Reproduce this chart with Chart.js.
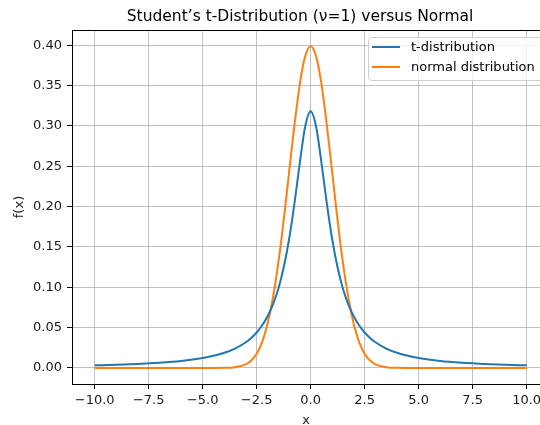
<!DOCTYPE html>
<html><head><meta charset="utf-8">
<script src="https://cdn.jsdelivr.net/npm/chart.js@4/dist/chart.umd.min.js"></script>
<style>html,body{margin:0;padding:0;background:#fff;overflow:hidden}#wrap{width:540px;height:425px;position:relative}</style>
</head><body><div id="wrap"><canvas id="c" width="540" height="425"></canvas></div>
<script>
const titleText = "Student\u2019s t-Distribution (\u03bd=1) versus Normal";
const seriesLabels = ["t-distribution", "normal distribution"];
const xValues = [-10,-9,-8,-7,-6,-5,-4.5,-4,-3.5,-3,-2.75,-2.5,-2.25,-2,-1.75,-1.5,-1.25,-1,-0.75,-0.5,-0.25,0,
  0.25,0.5,0.75,1,1.25,1.5,1.75,2,2.25,2.5,2.75,3,3.5,4,4.5,5,6,7,8,9,10];
const tValues = [0.0032,0.0039,0.0049,0.0064,0.0086,0.0122,0.0150,0.0187,0.0240,0.0318,0.0372,0.0439,0.0525,0.0637,0.0784,0.0979,0.1242,0.1592,0.2037,0.2546,0.2996,0.3183,
  0.2996,0.2546,0.2037,0.1592,0.1242,0.0979,0.0784,0.0637,0.0525,0.0439,0.0372,0.0318,0.0240,0.0187,0.0150,0.0122,0.0086,0.0064,0.0049,0.0039,0.0032];
const normalValues = [0,0,0,0,0,0,0,0.0001,0.0009,0.0044,0.0091,0.0175,0.0317,0.0540,0.0863,0.1295,0.1826,0.2420,0.3011,0.3521,0.3867,0.3989,
  0.3867,0.3521,0.3011,0.2420,0.1826,0.1295,0.0863,0.0540,0.0317,0.0175,0.0091,0.0044,0.0009,0.0001,0,0,0,0,0,0,0];
const xTicks = [-10,-7.5,-5,-2.5,0,2.5,5,7.5,10];
const yTicks = [0,0.05,0.10,0.15,0.20,0.25,0.30,0.35,0.40];
const colors = ["#1f77b4", "#ff7f0e"];

const FONT = "'DejaVu Sans', sans-serif";
const FS = 13;
const fmt = (v, d) => (v < 0 ? "\u2212" : "") + Math.abs(v).toFixed(d);

const extras = {
  id: "extras",
  afterDraw(chart) {
    const ctx = chart.ctx, a = chart.chartArea;
    ctx.save();
    ctx.strokeStyle = "#000"; ctx.lineWidth = 1;
    ctx.beginPath(); ctx.moveTo(a.left, a.top + 0.5); ctx.lineTo(a.right, a.top + 0.5); ctx.stroke();
    ctx.fillStyle = "#000"; ctx.font = "15.5px " + FONT; ctx.textAlign = "center"; ctx.textBaseline = "alphabetic";
    ctx.fillText(titleText, 300, 21);
    const bx = 368.5, by = 37.5, bw = 190, bh = 43, r = 3;
    ctx.fillStyle = "rgba(255,255,255,0.8)"; ctx.strokeStyle = "#d0d0d0"; ctx.lineWidth = 1;
    ctx.beginPath();
    ctx.moveTo(bx + r, by); ctx.lineTo(bx + bw - r, by); ctx.arcTo(bx + bw, by, bx + bw, by + r, r);
    ctx.lineTo(bx + bw, by + bh - r); ctx.arcTo(bx + bw, by + bh, bx + bw - r, by + bh, r);
    ctx.lineTo(bx + r, by + bh); ctx.arcTo(bx, by + bh, bx, by + bh - r, r);
    ctx.lineTo(bx, by + r); ctx.arcTo(bx, by, bx + r, by, r); ctx.closePath();
    ctx.fill(); ctx.stroke();
    ctx.font = FS + "px " + FONT; ctx.textAlign = "left"; ctx.textBaseline = "middle";
    chart.data.datasets.forEach((ds, i) => {
      const ly = 47 + i * 20;
      ctx.strokeStyle = ds.borderColor; ctx.lineWidth = 2;
      ctx.beginPath(); ctx.moveTo(372, ly); ctx.lineTo(400, ly); ctx.stroke();
      ctx.fillStyle = "#000"; ctx.fillText(ds.label, 411, ly + 1);
    });
    ctx.restore();
  }
};

new Chart(document.getElementById("c"), {
  type: "line",
  data: {
    datasets: [
      { label: seriesLabels[0], data: xValues.map((x, i) => ({ x, y: tValues[i] })), borderColor: colors[0] },
      { label: seriesLabels[1], data: xValues.map((x, i) => ({ x, y: normalValues[i] })), borderColor: colors[1] }
    ]
  },
  options: {
    responsive: false, animation: false, devicePixelRatio: 1,
    layout: { padding: { top: 30, left: 0, right: 0, bottom: 0 } },
    elements: { point: { radius: 0 }, line: { borderWidth: 2, cubicInterpolationMode: "monotone", fill: false } },
    plugins: { legend: { display: false }, tooltip: { enabled: false }, title: { display: false } },
    scales: {
      x: {
        type: "linear", min: -11.05, max: 10.62,
        afterBuildTicks: s => { s.ticks = xTicks.map(v => ({ value: v })); },
        afterFit: s => { s.height = 41; s.paddingLeft = 0; s.paddingRight = 0; },
        ticks: { callback: v => fmt(v, 1), font: { family: FONT, size: FS }, color: "#1a1a1a", padding: 4, maxRotation: 0, autoSkip: false },
        grid: { color: "#b0b0b0", lineWidth: 0.8, tickLength: 5, tickColor: "#000", tickWidth: 1 },
        border: { color: "#000", width: 1 },
        title: { display: true, text: "x", font: { family: FONT, size: FS }, color: "#1a1a1a", padding: { top: 0, bottom: -3 } }
      },
      y: {
        type: "linear", min: -0.01995, max: 0.4189,
        afterBuildTicks: s => { s.ticks = yTicks.map(v => ({ value: v })); },
        afterFit: s => { s.width = 72; s.paddingTop = 0; s.paddingBottom = 0; },
        ticks: { callback: v => fmt(v, 2), font: { family: FONT, size: FS }, color: "#1a1a1a", padding: 5, autoSkip: false },
        grid: { color: "#b0b0b0", lineWidth: 0.8, tickLength: 5, tickColor: "#000", tickWidth: 1 },
        border: { color: "#000", width: 1 },
        title: { display: true, text: "f(x)", font: { family: FONT, size: FS }, color: "#1a1a1a", padding: { top: 12, bottom: 0 } }
      }
    }
  },
  plugins: [extras]
});
</script></body></html>
